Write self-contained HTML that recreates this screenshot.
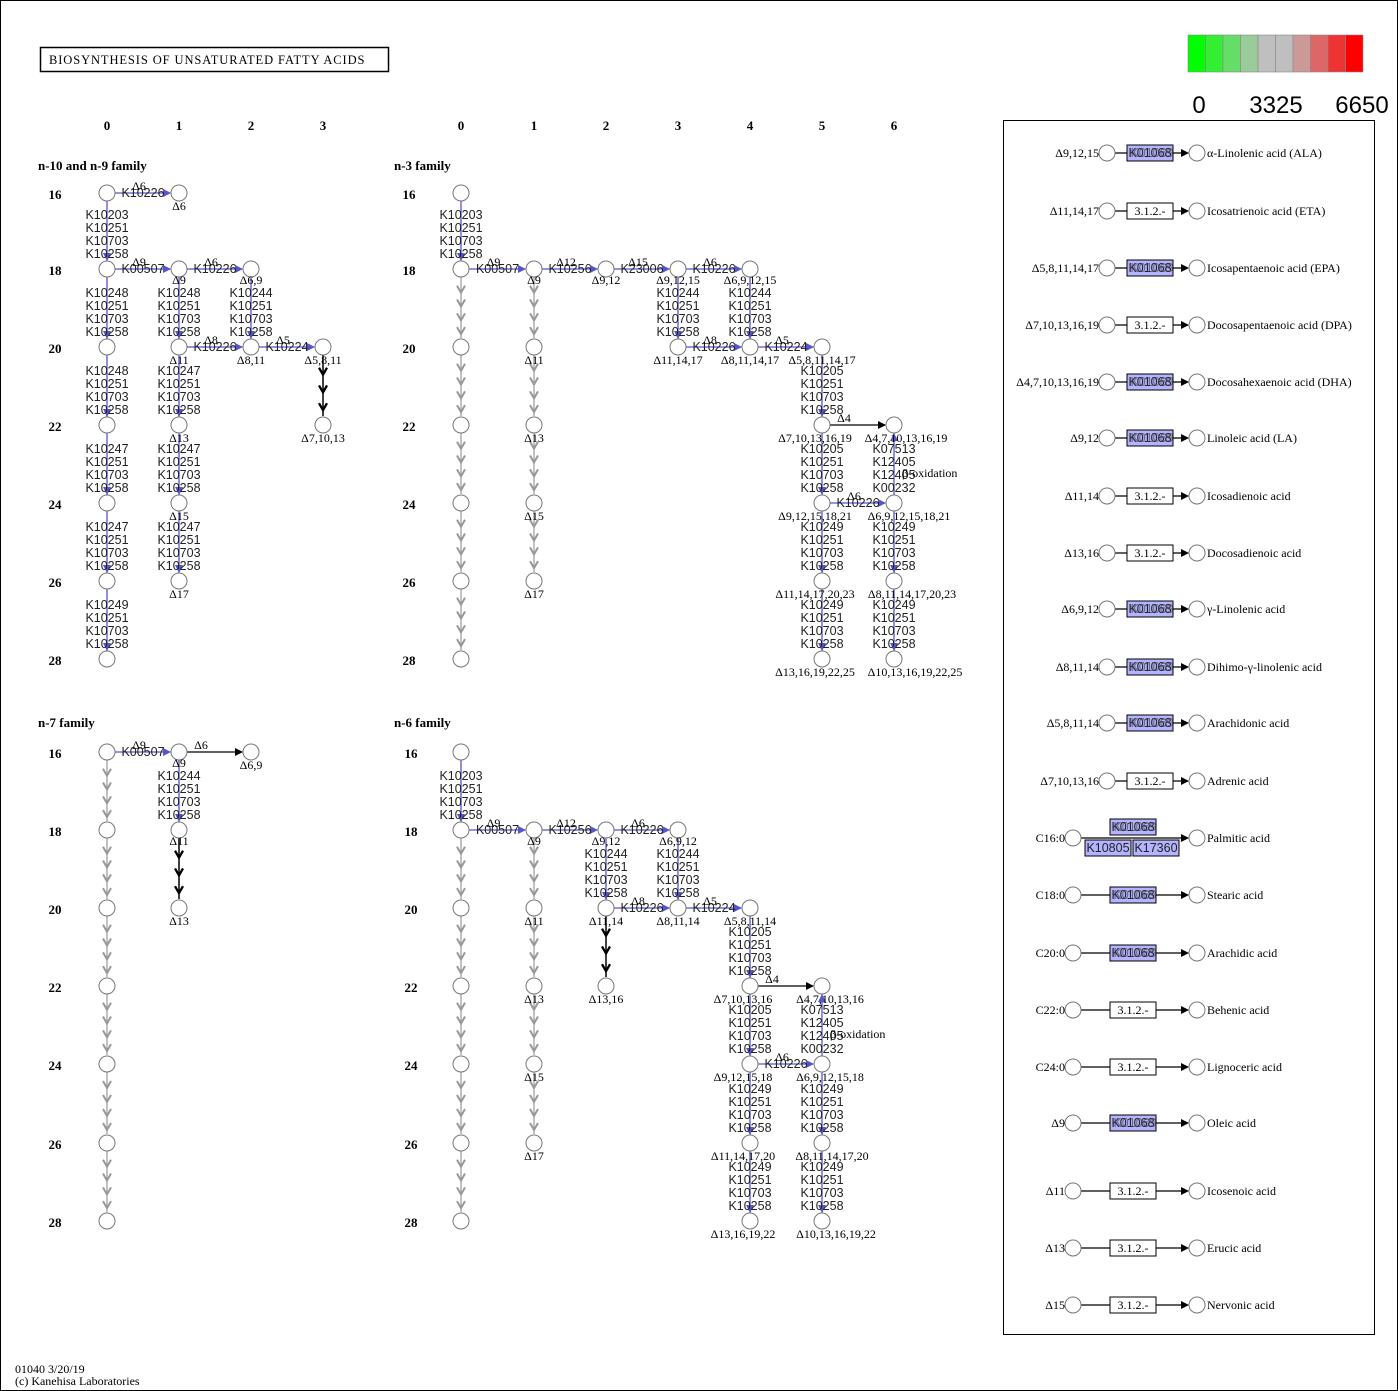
<!DOCTYPE html>
<html><head><meta charset="utf-8">
<style>
html,body{margin:0;padding:0;background:#fff;}
svg{display:block;}
.s{font-family:"Liberation Serif",serif;font-size:12px;fill:#000;}
.g{font-family:"Liberation Sans",sans-serif;font-size:12.5px;fill:#222;}
.b{font-family:"Liberation Serif",serif;font-size:13px;font-weight:bold;fill:#000;}
</style></head><body>
<svg id="m" width="1398" height="1391" xmlns="http://www.w3.org/2000/svg"></svg>
<script>
var out=[];
function P(s){out.push(s);}
var BL='#5555cc';
function circ(x,y){P('<circle cx="'+x+'" cy="'+y+'" r="8" fill="#fff" stroke="#777" stroke-width="1"/>');}
function txt(x,y,t,c,a){P('<text x="'+x+'" y="'+y+'" class="'+c+'"'+(a?' text-anchor="'+a+'"':'')+'>'+t+'</text>');}
function lab(x,y,t){txt(x,y+21,t,'s','middle');}
function harr(x1,x2,y,gene,d,black){
  var col=black?'#000':BL;
  P('<line x1="'+(x1+8)+'" y1="'+y+'" x2="'+(x2-9)+'" y2="'+y+'" stroke="'+col+'" stroke-width="1.3"/>');
  P('<polygon points="'+(x2-8)+','+y+' '+(x2-16)+','+(y-4)+' '+(x2-16)+','+(y+4)+'" fill="'+col+'"/>');
  var m=(x1+x2)/2;
  if(gene) txt(m,y+4,gene,'g','middle');
  if(d) txt(black?m-14:m-4,y-3,d,'s','middle');
}
function vstack(x,y1,y2,genes,up){
  P('<line x1="'+x+'" y1="'+(y1+8)+'" x2="'+x+'" y2="'+(y2-8)+'" stroke="'+BL+'" stroke-width="1.3"/>');
  if(up) P('<polygon points="'+x+','+(y1+8)+' '+(x-4)+','+(y1+16)+' '+(x+4)+','+(y1+16)+'" fill="'+BL+'"/>');
  else P('<polygon points="'+x+','+(y2-8)+' '+(x-4)+','+(y2-16)+' '+(x+4)+','+(y2-16)+'" fill="'+BL+'"/>');
  var top=y2-11-13*(genes.length-1);
  for(var i=0;i<genes.length;i++) txt(x,top+13*i,genes[i],'g','middle');
}
function chain(x,y1,y2,col,n,w){
  P('<line x1="'+x+'" y1="'+(y1+8)+'" x2="'+x+'" y2="'+(y2-9)+'" stroke="'+col+'" stroke-width="'+w+'"/>');
  var a=y1+8,b=y2-8,st=(b-a)/(n+0.5);
  for(var i=1;i<=n;i++){var yy=a+st*i+2;
    P('<polyline points="'+(x-4)+','+(yy-7)+' '+x+','+yy+' '+(x+4)+','+(yy-7)+'" fill="none" stroke="'+col+'" stroke-width="'+(w+0.8)+'"/>');}
}
var G1=['K10203','K10251','K10703','K10258'],G48=['K10248','K10251','K10703','K10258'],
G47=['K10247','K10251','K10703','K10258'],G49=['K10249','K10251','K10703','K10258'],
G44=['K10244','K10251','K10703','K10258'],G05=['K10205','K10251','K10703','K10258'],
GB=['K07513','K12405','K12405','K00232'];
function grayChain(x,R,from,to){for(var i=from;i<to;i++){chain(x,R[i],R[i+1],'#999',4,1.2);}}

P('<rect x="0.5" y="0.5" width="1397" height="1390" fill="#fff" stroke="#000"/>');
P('<rect x="40.5" y="47.5" width="348" height="24" fill="#fff" stroke="#000" stroke-width="1.5"/>');
P('<text x="49" y="64" class="s" style="font-size:12.5px;letter-spacing:0.9px">BIOSYNTHESIS OF UNSATURATED FATTY ACIDS</text>');
var lc=['#00ff00','#33ee33','#66dd66','#99cc99','#bfbfbf','#bfbfbf','#cc9999','#dd6666','#ee3333','#ff0000'];
for(var i=0;i<10;i++){P('<rect x="'+(1188+i*17.5)+'" y="35" width="17.5" height="37" fill="'+lc[i]+'" stroke="#888" stroke-width="0.6"/>');}
P('<text x="1199" y="113" font-family="Liberation Sans,sans-serif" font-size="24" text-anchor="middle">0</text>');
P('<text x="1276" y="113" font-family="Liberation Sans,sans-serif" font-size="24" text-anchor="middle">3325</text>');
P('<text x="1362" y="113" font-family="Liberation Sans,sans-serif" font-size="24" text-anchor="middle">6650</text>');

var XA=[107,179,251,323],XB=[461,534,606,678,750,822,894];
var RT=[193,269,347,425,503,581,659],RB=[752,830,908,986,1064,1143,1221];
for(var i=0;i<4;i++) txt(XA[i],130,i,'b','middle');
for(var i=0;i<7;i++) txt(XB[i],130,i,'b','middle');
txt(38,170,'n-10 and n-9 family','b');txt(394,170,'n-3 family','b');
txt(38,727,'n-7 family','b');txt(394,727,'n-6 family','b');
for(var i=0;i<7;i++){var c=16+2*i;txt(55,RT[i]+6,c,'b','middle');txt(409,RT[i]+6,c,'b','middle');txt(55,RB[i]+6,c,'b','middle');txt(411,RB[i]+6,c,'b','middle');}

var X=XA,R=RT;
vstack(X[0],R[0],R[1],G1);vstack(X[0],R[1],R[2],G48);vstack(X[0],R[2],R[3],G48);
vstack(X[0],R[3],R[4],G47);vstack(X[0],R[4],R[5],G47);vstack(X[0],R[5],R[6],G49);
vstack(X[1],R[1],R[2],G48);vstack(X[1],R[2],R[3],G47);vstack(X[1],R[3],R[4],G47);vstack(X[1],R[4],R[5],G47);
vstack(X[2],R[1],R[2],G44);
chain(X[3],R[2],R[3],'#000',3,1.5);
harr(X[0],X[1],R[0],'K10226','Δ6');harr(X[0],X[1],R[1],'K00507','Δ9');harr(X[1],X[2],R[1],'K10226','Δ6');
harr(X[1],X[2],R[2],'K10226','Δ8');harr(X[2],X[3],R[2],'K10224','Δ5');
for(var i=0;i<7;i++)circ(X[0],R[i]);
circ(X[1],R[0]);lab(X[1],R[0]-4,'Δ6');
circ(X[1],R[1]);lab(X[1],R[1]-6,'Δ9');circ(X[2],R[1]);lab(X[2],R[1]-6,'Δ6,9');
circ(X[1],R[2]);lab(X[1],R[2]-4,'Δ11');circ(X[2],R[2]);lab(X[2],R[2]-4,'Δ8,11');circ(X[3],R[2]);lab(X[3],R[2]-4,'Δ5,8,11');
circ(X[1],R[3]);lab(X[1],R[3]-4,'Δ13');circ(X[3],R[3]);lab(X[3],R[3]-4,'Δ7,10,13');
circ(X[1],R[4]);lab(X[1],R[4]-4,'Δ15');circ(X[1],R[5]);lab(X[1],R[5]-4,'Δ17');

X=XB;R=RT;
vstack(X[0],R[0],R[1],G1);
grayChain(X[0],R,1,6);grayChain(X[1],R,1,5);
vstack(X[3],R[1],R[2],G44);vstack(X[4],R[1],R[2],G44);
vstack(X[5],R[2],R[3],G05);vstack(X[5],R[3],R[4],G05);vstack(X[5],R[4],R[5],G49);vstack(X[5],R[5],R[6],G49);
vstack(X[6],R[3],R[4],GB,true);txt(X[6]+8,R[3]+52,'β-oxidation','s');
vstack(X[6],R[4],R[5],G49);vstack(X[6],R[5],R[6],G49);
harr(X[0],X[1],R[1],'K00507','Δ9');harr(X[1],X[2],R[1],'K10256','Δ12');harr(X[2],X[3],R[1],'K23006','Δ15');harr(X[3],X[4],R[1],'K10226','Δ6');
harr(X[3],X[4],R[2],'K10226','Δ8');harr(X[4],X[5],R[2],'K10224','Δ5');
harr(X[5],X[6],R[3],'','Δ4',true);harr(X[5],X[6],R[4],'K10226','Δ6');
for(var i=0;i<7;i++)circ(X[0],R[i]);
circ(X[1],R[1]);lab(X[1],R[1]-6,'Δ9');circ(X[2],R[1]);lab(X[2],R[1]-6,'Δ9,12');circ(X[3],R[1]);lab(X[3],R[1]-6,'Δ9,12,15');circ(X[4],R[1]);lab(X[4],R[1]-6,'Δ6,9,12,15');
circ(X[1],R[2]);lab(X[1],R[2]-4,'Δ11');circ(X[1],R[3]);lab(X[1],R[3]-4,'Δ13');circ(X[1],R[4]);lab(X[1],R[4]-4,'Δ15');circ(X[1],R[5]);lab(X[1],R[5]-4,'Δ17');
circ(X[3],R[2]);lab(X[3],R[2]-4,'Δ11,14,17');circ(X[4],R[2]);lab(X[4],R[2]-4,'Δ8,11,14,17');circ(X[5],R[2]);lab(X[5],R[2]-4,'Δ5,8,11,14,17');
circ(X[5],R[3]);lab(X[5]-7,R[3]-4,'Δ7,10,13,16,19');circ(X[6],R[3]);lab(X[6]+12,R[3]-4,'Δ4,7,10,13,16,19');
circ(X[5],R[4]);lab(X[5]-7,R[4]-4,'Δ9,12,15,18,21');circ(X[6],R[4]);lab(X[6]+15,R[4]-4,'Δ6,9,12,15,18,21');
circ(X[5],R[5]);lab(X[5]-7,R[5]-4,'Δ11,14,17,20,23');circ(X[6],R[5]);lab(X[6]+18,R[5]-4,'Δ8,11,14,17,20,23');
circ(X[5],R[6]);lab(X[5]-7,R[6]-4,'Δ13,16,19,22,25');circ(X[6],R[6]);lab(X[6]+21,R[6]-4,'Δ10,13,16,19,22,25');

X=XA;R=RB;
grayChain(X[0],R,0,6);
vstack(X[1],R[0],R[1],G44);chain(X[1],R[1],R[2],'#000',3,1.5);
harr(X[0],X[1],R[0],'K00507','Δ9');harr(X[1],X[2],R[0],'','Δ6',true);
for(var i=0;i<7;i++)circ(X[0],R[i]);
circ(X[1],R[0]);lab(X[1],R[0]-6,'Δ9');circ(X[2],R[0]);lab(X[2],R[0]-4,'Δ6,9');
circ(X[1],R[1]);lab(X[1],R[1]-6,'Δ11');circ(X[1],R[2]);lab(X[1],R[2]-4,'Δ13');

X=XB;R=RB;
vstack(X[0],R[0],R[1],G1);
grayChain(X[0],R,1,6);grayChain(X[1],R,1,5);
vstack(X[2],R[1],R[2],G44);vstack(X[3],R[1],R[2],G44);chain(X[2],R[2],R[3],'#000',3,1.5);
vstack(X[4],R[2],R[3],G05);vstack(X[4],R[3],R[4],G05);vstack(X[4],R[4],R[5],G49);vstack(X[4],R[5],R[6],G49);
vstack(X[5],R[3],R[4],GB,true);txt(X[5]+8,R[3]+52,'β-oxidation','s');
vstack(X[5],R[4],R[5],G49);vstack(X[5],R[5],R[6],G49);
harr(X[0],X[1],R[1],'K00507','Δ9');harr(X[1],X[2],R[1],'K10256','Δ12');harr(X[2],X[3],R[1],'K10226','Δ6');
harr(X[2],X[3],R[2],'K10226','Δ8');harr(X[3],X[4],R[2],'K10224','Δ5');
harr(X[4],X[5],R[3],'','Δ4',true);harr(X[4],X[5],R[4],'K10226','Δ6');
for(var i=0;i<7;i++)circ(X[0],R[i]);
circ(X[1],R[1]);lab(X[1],R[1]-6,'Δ9');circ(X[2],R[1]);lab(X[2],R[1]-6,'Δ9,12');circ(X[3],R[1]);lab(X[3],R[1]-6,'Δ6,9,12');
circ(X[1],R[2]);lab(X[1],R[2]-4,'Δ11');circ(X[1],R[3]);lab(X[1],R[3]-4,'Δ13');circ(X[1],R[4]);lab(X[1],R[4]-4,'Δ15');circ(X[1],R[5]);lab(X[1],R[5]-4,'Δ17');
circ(X[2],R[2]);lab(X[2],R[2]-4,'Δ11,14');circ(X[3],R[2]);lab(X[3],R[2]-4,'Δ8,11,14');circ(X[4],R[2]);lab(X[4],R[2]-4,'Δ5,8,11,14');
circ(X[2],R[3]);lab(X[2],R[3]-4,'Δ13,16');
circ(X[4],R[3]);lab(X[4]-7,R[3]-4,'Δ7,10,13,16');circ(X[5],R[3]);lab(X[5]+8,R[3]-4,'Δ4,7,10,13,16');
circ(X[4],R[4]);lab(X[4]-7,R[4]-4,'Δ9,12,15,18');circ(X[5],R[4]);lab(X[5]+8,R[4]-4,'Δ6,9,12,15,18');
circ(X[4],R[5]);lab(X[4]-7,R[5]-4,'Δ11,14,17,20');circ(X[5],R[5]);lab(X[5]+10,R[5]-4,'Δ8,11,14,17,20');
circ(X[4],R[6]);lab(X[4]-7,R[6]-4,'Δ13,16,19,22');circ(X[5],R[6]);lab(X[5]+14,R[6]-4,'Δ10,13,16,19,22');

P('<rect x="1003.5" y="120.5" width="371" height="1214" fill="none" stroke="#000"/>');
function box(x,y,blue,t){
  P('<rect x="'+x+'" y="'+(y-8)+'" width="46" height="16" fill="'+(blue?'#b3b3ff':'#fff')+'" stroke="#000" stroke-width="1"/>');
  if(blue){txt(x+23,y+4,'K01068','g','middle');P('<text x="'+(x+25)+'" y="'+(y+4)+'" class="g" text-anchor="middle" style="fill:#333;opacity:.6">K01069</text>');}
  else txt(x+23,y+4,t,'s','middle');
}
var rows=[[153,'Δ9,12,15',1,'α-Linolenic acid (ALA)'],[211,'Δ11,14,17',0,'Icosatrienoic acid (ETA)'],
[268,'Δ5,8,11,14,17',1,'Icosapentaenoic acid (EPA)'],[325,'Δ7,10,13,16,19',0,'Docosapentaenoic acid (DPA)'],
[382,'Δ4,7,10,13,16,19',1,'Docosahexaenoic acid (DHA)'],[438,'Δ9,12',1,'Linoleic acid (LA)'],
[496,'Δ11,14',0,'Icosadienoic acid'],[553,'Δ13,16',0,'Docosadienoic acid'],[609,'Δ6,9,12',1,'γ-Linolenic acid'],
[667,'Δ8,11,14',1,'Dihimo-γ-linolenic acid'],[723,'Δ5,8,11,14',1,'Arachidonic acid'],[781,'Δ7,10,13,16',0,'Adrenic acid'],
[838,'C16:0',2,'Palmitic acid'],[895,'C18:0',1,'Stearic acid'],[953,'C20:0',1,'Arachidic acid'],
[1010,'C22:0',0,'Behenic acid'],[1067,'C24:0',0,'Lignoceric acid'],[1123,'Δ9',1,'Oleic acid'],
[1191,'Δ11',0,'Icosenoic acid'],[1248,'Δ13',0,'Erucic acid'],[1305,'Δ15',0,'Nervonic acid']];
rows.forEach(function(r,i){
  var y=r[0],cx=i<12?1107:1073,bx=i<12?1127:1110;
  P('<line x1="'+(cx+8)+'" y1="'+y+'" x2="1185" y2="'+y+'" stroke="#000" stroke-width="1.2"/>');
  P('<polygon points="1189,'+y+' 1181,'+(y-4)+' 1181,'+(y+4)+'" fill="#000"/>');
  circ(cx,y);circ(1197,y);
  txt(cx-8,y+4,r[1],'s','end');
  txt(1207,y+4,r[3],'s');
  if(r[2]==2){box(1110,y-11,1);
    P('<rect x="1085" y="'+(y+2)+'" width="46" height="16" fill="#b3b3ff" stroke="#000"/>');
    P('<rect x="1133" y="'+(y+2)+'" width="46" height="16" fill="#b3b3ff" stroke="#000"/>');
    txt(1108,y+14,'K10805','g','middle');txt(1156,y+14,'K17360','g','middle');
  } else box(bx,y,r[2]==1,'3.1.2.-');
});
txt(15,1373,'01040 3/20/19','s');txt(15,1385,'(c) Kanehisa Laboratories','s');
document.getElementById('m').innerHTML=out.join('');
</script>
</body></html>
